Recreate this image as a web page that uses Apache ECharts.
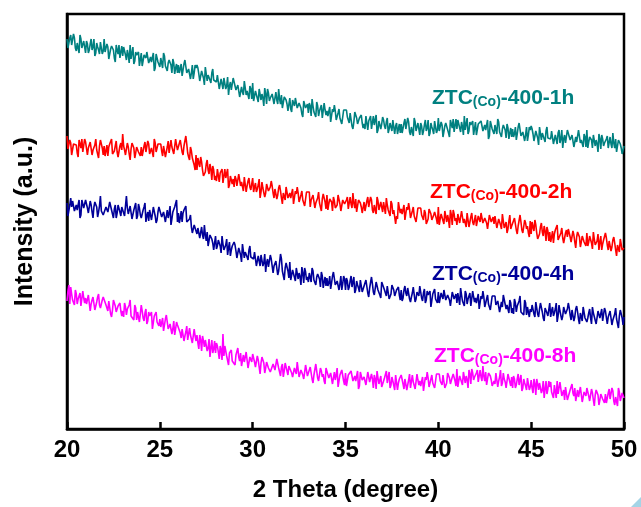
<!DOCTYPE html>
<html>
<head>
<meta charset="utf-8">
<script src="https://cdn.jsdelivr.net/npm/echarts@6/dist/echarts.min.js"></script>
<style>
  html, body { margin: 0; padding: 0; background: #fff; }
  #chart { width: 641px; height: 507px; }
</style>
</head>
<body>
<div id="chart"></div>
<script>
// XRD scans of ZTC(Co)-400 samples, 2θ = 20–50°, step 0.05°, offset stacked (a.u.)
// Each scan is stored as two interleaved halves:
//   *Even -> 20.00, 20.10, 20.20 ... 50.00
//   *Odd  -> 20.05, 20.15, 20.25 ... 49.95
const scanStart = 20;
const scanStep = 0.05;
const xTicks = [20, 25, 30, 35, 40, 45, 50];

const sampleNames = ['1h', '2h', '4h', '8h'];
const sampleColors = ['#008080', '#ff0000', '#000099', '#ff00ff'];

const teal1hEven = [
391,383,395,385,392,379,387,395,382,389,
377,386,380,391,383,374,387,380,388,376,
391,378,383,372,384,380,368,380,385,373,
374,383,370,375,385,371,366,378,374,364,
377,364,373,378,367,373,367,359,376,368,
363,370,377,364,359,370,365,371,356,366,
365,359,354,366,371,355,362,357,351,365,
365,356,351,358,345,361,355,350,357,350,
348,355,341,351,341,354,344,335,348,339,
350,340,345,333,343,335,347,339,331,341,
347,334,339,328,340,336,324,336,341,329,
330,338,326,330,341,326,322,333,330,319,
332,318,328,332,322,327,322,313,331,322,
317,324,331,318,313,324,319,325,310,320,
319,314,308,321,325,310,317,312,306,320,
321,313,307,315,301,318,312,307,314,307,
306,314,300,310,301,314,305,297,309,301,
313,304,308,297,307,299,312,304,296,306,
306,298,311,301,308,295,304,312,299,307,
295,304,299,310,302,294,307,300,309,297,
312,300,305,295,307,305,293,306,311,300,
301,310,298,303,314,300,296,308,305,295,
308,295,305,309,299,305,300,291,309,301,
296,304,311,298,293,305,300,306,291,302,
301,296,290,303,308,292,300,295,289,303,
304,296,291,298,285,302,297,291,299,292,
291,299,286,295,286,300,291,282,295,287,
299,290,295,283,293,286,299,290,283,293,
300,288,292,282,294,290,278,291,295,284,
285,294,281,286,297,282,278,290,286,276,
284];
const teal1hOdd = [
382,392,385,396,382,387,377,391,384,388,
389,377,386,380,391,377,383,376,390,379,
378,386,371,381,383,372,385,376,372,384,
383,375,380,367,371,383,369,375,378,365,
364,375,372,377,365,368,377,362,372,368,
372,362,374,362,367,371,357,367,362,357,
357,366,360,370,357,361,351,365,357,362,
362,349,359,352,363,349,354,347,361,350,
348,356,340,351,352,341,353,344,340,352,
350,341,347,333,338,349,335,341,344,331,
329,339,337,341,330,332,342,326,337,332,
336,326,338,326,331,335,321,331,326,321,
321,330,324,334,321,325,316,329,322,326,
327,314,324,317,328,314,320,312,327,315,
314,323,307,318,319,309,321,313,308,321,
320,312,317,304,308,320,306,312,315,302,
301,312,309,314,303,305,315,300,310,306,
310,301,312,301,306,310,296,307,301,297,
297,307,301,312,298,303,294,308,301,306,
307,295,305,299,310,297,303,296,311,300,
299,308,293,304,306,297,310,302,298,311,
310,302,308,295,300,312,299,305,309,296,
295,306,304,308,297,300,310,294,305,301,
305,296,308,296,301,306,292,302,297,293,
293,303,296,307,294,298,289,303,295,300,
301,289,299,292,303,290,296,288,303,292,
291,300,285,295,297,287,300,291,287,300,
299,291,297,283,288,300,287,292,296,283,
282,293,290,295,284,286,296,281,291,287,
291,282,293,282,287,291,277,288,282,278];

const red2hEven = [
294,282,287,277,288,285,273,286,291,280,
288,275,285,290,280,285,280,272,290,282,
284,279,274,286,291,276,284,278,273,287,
296,280,275,283,270,287,282,277,285,278,
283,275,288,278,286,274,283,291,278,286,
288,279,284,273,283,277,290,282,275,285,
280,290,278,284,294,277,270,279,273,260,
260,267,273,260,254,266,260,266,250,260,
254,261,248,257,247,261,251,242,254,246,
243,251,246,256,248,239,251,244,252,240,
252,243,238,245,232,248,243,237,245,237,
249,237,241,231,242,239,226,239,243,232,
237,232,226,239,243,228,235,230,224,238,
236,223,232,237,227,232,227,219,236,228,
235,226,230,219,229,222,235,226,219,229,
224,233,221,226,237,222,218,230,227,217,
228,220,233,222,230,217,226,233,220,228,
218,226,232,220,214,226,220,206,211,222,
221,216,210,223,227,212,219,214,208,222,
223,215,210,217,204,221,216,210,218,211,
223,211,216,206,218,215,202,215,220,209,
205,214,209,219,211,203,216,208,217,205,
215,202,212,217,207,212,207,199,217,209,
206,214,200,210,201,214,205,197,209,201,
204,212,200,204,215,200,196,207,204,193,
196,203,210,197,192,203,198,204,189,199,
198,193,187,200,205,189,197,192,186,200,
201,193,187,195,182,198,193,188,195,188,
197,188,192,181,191,183,196,188,180,190,
197,185,189,179,190,187,174,187,191,180,
182];
const red2hOdd = [
281,290,275,286,287,277,290,282,278,291,
290,282,288,275,280,291,278,284,288,275,
274,285,283,287,276,279,289,273,284,280,
284,275,287,276,281,286,272,283,278,274,
274,284,278,289,276,282,273,287,280,285,
286,274,284,278,289,277,283,276,291,280,
280,289,275,286,286,273,283,272,265,275,
272,263,268,254,258,270,256,261,264,250,
249,259,257,261,249,252,261,245,255,251,
254,244,256,244,249,253,238,249,243,239,
238,247,241,251,238,242,233,246,239,243,
244,232,241,235,245,232,237,230,244,233,
232,241,225,236,237,227,239,231,226,239,
238,230,235,222,227,238,225,231,234,221,
220,231,228,233,222,225,235,219,230,226,
230,221,233,222,227,231,217,228,223,219,
219,229,223,233,220,225,216,229,222,227,
228,216,225,219,229,216,221,214,228,217,
216,225,209,220,221,211,223,215,210,223,
222,214,220,206,211,223,210,215,219,206,
205,216,214,219,208,210,220,205,216,212,
216,207,219,207,212,217,203,213,208,204,
204,214,208,219,206,210,201,215,208,213,
214,202,211,205,216,202,208,201,215,204,
203,211,196,206,208,197,210,201,197,209,
208,199,205,191,196,207,194,199,203,189,
188,199,196,201,190,192,202,187,197,193,
197,188,199,188,193,197,183,194,188,184,
184,194,187,198,185,189,180,194,186,191,
192,180,189,183,193,180,185,178,192,181];

const navy4hEven = [
227,214,232,229,219,225,220,212,230,222,
230,222,217,225,212,228,223,218,234,219,
214,223,218,228,220,212,225,217,226,214,
222,214,234,216,224,211,220,227,214,222,
212,220,227,214,209,221,216,222,207,218,
225,213,218,208,220,217,205,218,223,230,
217,212,208,220,224,206,211,203,195,207,
196,204,191,195,205,189,184,195,191,180,
194,184,189,177,186,179,191,182,174,184,
188,179,174,181,168,184,178,173,180,173,
171,178,164,174,164,177,167,158,171,162,
171,157,166,170,159,176,159,150,167,159,
168,155,160,149,161,157,145,157,162,150,
148,156,162,150,145,156,151,158,142,153,
152,147,141,154,159,143,151,146,140,154,
140,149,143,154,145,137,149,142,150,138,
141,150,137,142,153,138,134,146,142,132,
148,140,134,142,129,145,140,135,142,135,
140,132,144,134,142,128,137,145,131,139,
144,132,137,127,139,135,123,136,141,130,
138,125,135,140,130,135,130,122,140,132,
127,135,142,129,124,136,131,137,122,133,
132,127,121,134,139,123,131,126,120,134,
134,125,129,118,128,135,133,125,117,127,
122,131,118,123,134,119,115,127,123,113,
118,126,113,122,113,127,118,109,122,114,
127,119,114,121,108,125,120,114,122,115,
127,115,120,109,121,118,106,118,123,112,
108,117,112,123,115,106,119,112,121,109,
119,106,116,120,110,116,111,102,120,112,
113];
const navy4hOdd = [
214,225,223,228,217,220,230,215,226,222,
226,217,229,218,223,227,213,224,219,215,
215,225,219,229,216,221,212,225,218,223,
224,212,222,215,226,213,219,211,226,215,
214,223,208,218,220,210,223,214,210,223,
222,214,220,207,212,224,211,217,221,208,
207,219,217,221,208,208,215,197,205,199,
202,192,203,191,195,198,183,193,187,182,
181,190,184,194,180,185,175,188,180,185,
185,172,182,175,186,172,177,170,184,173,
171,179,163,174,175,164,176,167,163,175,
173,164,169,155,159,171,157,162,165,152,
150,160,158,162,151,153,163,147,158,153,
157,148,159,148,153,157,143,154,148,144,
144,154,147,158,145,149,140,154,146,151,
152,140,149,143,153,140,145,138,152,141,
140,149,133,144,146,135,148,140,135,148,
147,139,144,131,136,147,134,140,143,130,
129,140,137,142,131,133,143,128,138,134,
138,129,141,130,135,139,125,136,131,127,
127,137,131,142,129,133,124,138,131,136,
137,125,135,128,139,126,132,124,139,128,
127,136,120,131,133,122,135,127,122,135,
134,126,131,118,123,134,121,127,130,117,
116,127,124,129,118,120,130,115,125,121,
125,116,128,116,121,126,112,122,117,113,
113,123,117,127,114,119,110,123,116,121,
122,110,120,113,124,111,117,109,124,113,
112,121,106,117,119,108,121,113,109,122,
121,113,119,105,110,122,109,114,118,105];

const magenta8hEven = [
129,145,143,130,125,136,131,137,122,132,
132,124,136,126,133,120,128,136,122,130,
133,125,119,127,113,130,124,119,126,119,
119,127,115,119,130,115,110,122,118,108,
125,112,117,106,118,114,101,114,118,107,
111,105,99,111,115,100,107,101,95,108,
107,97,101,89,98,90,102,93,85,94,
95,81,90,94,83,88,82,73,90,81,
77,84,71,80,96,84,74,65,77,69,
68,75,82,69,64,75,70,76,61,71,
76,68,62,70,56,73,67,62,69,62,
57,66,60,71,62,54,66,59,67,55,
62,57,51,64,68,53,60,55,49,63,
54,63,51,55,66,52,48,59,56,46,
64,52,57,46,58,55,43,55,60,49,
57,44,54,59,49,54,49,41,58,50,
53,45,58,48,56,42,51,59,46,54,
44,52,59,47,42,53,48,55,40,51,
55,46,51,40,50,42,55,47,40,50,
49,44,39,53,58,43,51,47,42,56,
57,49,45,53,40,57,52,48,56,49,
61,49,54,45,57,54,42,56,61,50,
51,60,48,53,64,49,45,57,54,44,
49,57,43,53,44,57,48,40,52,44,
42,51,45,56,47,39,51,44,52,40,
50,37,46,51,40,46,40,32,49,41,
43,38,32,45,49,34,41,36,30,44,
32,40,46,34,29,40,35,42,26,37,
42,34,29,37,24,40,35,30,38,31,
36,28,41,31,39,25,34,42,29,37,
32];
const magenta8hOdd = [
139,126,136,129,140,126,132,124,139,127,
126,135,119,130,131,121,133,125,120,133,
132,124,129,116,120,132,118,124,127,114,
113,123,121,125,114,116,125,110,120,116,
119,109,121,109,114,118,103,114,108,104,
103,112,105,115,101,106,96,109,101,105,
105,92,101,94,104,90,95,87,101,89,
87,95,79,89,90,79,91,82,77,89,
87,78,84,70,74,86,72,77,80,67,
65,75,73,77,66,68,78,62,73,68,
72,63,74,63,67,72,57,68,62,58,
58,68,61,72,58,63,53,67,59,64,
65,53,62,56,66,53,58,51,65,54,
53,62,47,57,59,49,62,53,49,62,
61,53,59,45,50,62,49,54,58,45,
44,55,53,58,47,49,59,44,54,50,
54,45,57,46,51,55,41,52,47,43,
43,53,47,58,45,49,40,54,47,52,
53,41,51,45,56,42,48,41,56,45,
44,53,38,50,52,42,55,48,44,57,
56,48,55,42,47,59,46,53,57,44,
43,54,52,58,47,50,60,46,57,53,
57,48,60,49,54,58,44,55,50,46,
46,56,49,60,47,51,42,56,48,53,
54,42,51,45,55,42,47,40,54,43,
42,51,35,46,47,37,49,41,36,49,
48,40,45,32,36,48,34,40,43,30,
29,40,37,42,31,33,43,28,38,34,
38,29,41,30,35,39,25,36,31,27,
27,37,31,42,29,33,24,38,31,36];

const sampleEven = [teal1hEven, red2hEven, navy4hEven, magenta8hEven];
const sampleOdd = [teal1hOdd, red2hOdd, navy4hOdd, magenta8hOdd];

const FONT = '"Liberation Sans", Arial, Helvetica, sans-serif';

// Merge the two halves back into one [2θ, intensity] list in scan order
function scanPairs(even, odd) {
  const out = [];
  for (let i = 0; i < even.length; i++) {
    out.push([+(scanStart + 2 * i * scanStep).toFixed(2), even[i]]);
    if (i < odd.length) {
      out.push([+(scanStart + (2 * i + 1) * scanStep).toFixed(2), odd[i]]);
    }
  }
  return out;
}

const chart = echarts.init(document.getElementById('chart'), null, { renderer: 'canvas' });

// Sample captions: "ZTC" + subscript "(Co)" + "-400-Nh"
const captionPos = [[432, 96], [430, 190], [432, 272], [434, 354]];
const captions = sampleNames.map((name, k) => ({
  type: 'text',
  x: captionPos[k][0],
  y: captionPos[k][1],
  z: 10,
  style: {
    text: '{m|ZTC}{s|(Co)}{m|-400-' + name + '}',
    fill: sampleColors[k],
    verticalAlign: 'middle',
    align: 'left',
    rich: {
      m: { fontSize: 21, fontWeight: 'bold', fontFamily: FONT, lineHeight: 26, verticalAlign: 'bottom', fill: sampleColors[k] },
      s: { fontSize: 14, fontWeight: 'bold', fontFamily: FONT, lineHeight: 13, verticalAlign: 'bottom', fill: sampleColors[k] }
    }
  }
}));

chart.setOption({
  animation: false,
  backgroundColor: '#ffffff',
  grid: {
    left: 67, right: 17, top: 14, bottom: 78,
    show: true, borderColor: '#000', borderWidth: 2.5, backgroundColor: 'transparent'
  },
  xAxis: {
    type: 'value',
    min: xTicks[0], max: xTicks[xTicks.length - 1], interval: 5,
    name: '2 Theta (degree)',
    nameLocation: 'middle',
    nameGap: 49,
    nameTextStyle: { fontSize: 24, fontWeight: 'bold', fontFamily: FONT, color: '#000' },
    axisLine: { show: true, onZero: false, lineStyle: { color: '#000', width: 2.5 } },
    axisTick: { show: true, inside: true, length: 7, lineStyle: { color: '#000', width: 2.5 } },
    axisLabel: { fontSize: 24, fontWeight: 'bold', fontFamily: FONT, color: '#000', margin: 9 },
    splitLine: { show: false }
  },
  yAxis: {
    type: 'value',
    min: 1, max: 416,
    name: 'Intensity (a.u.)',
    nameLocation: 'middle',
    nameGap: 29,
    nameTextStyle: { fontSize: 25, fontWeight: 'bold', fontFamily: FONT, color: '#000' },
    axisLine: { show: true, lineStyle: { color: '#000', width: 2.5 } },
    axisTick: { show: false },
    axisLabel: { show: false },
    splitLine: { show: false }
  },
  series: sampleNames.map((name, k) => ({
    type: 'line',
    name: name,
    data: scanPairs(sampleEven[k], sampleOdd[k]),
    showSymbol: false,
    symbol: 'none',
    sampling: null,
    lineStyle: { color: sampleColors[k], width: 1.6 },
    itemStyle: { color: sampleColors[k] },
    z: 2
  })),
  graphic: captions.concat([{
    type: 'polygon',
    z: 10,
    shape: { points: [[641, 497], [641, 507], [631, 507]] },
    style: { fill: '#a4d4e6' }
  }])
});
</script>
</body>
</html>
